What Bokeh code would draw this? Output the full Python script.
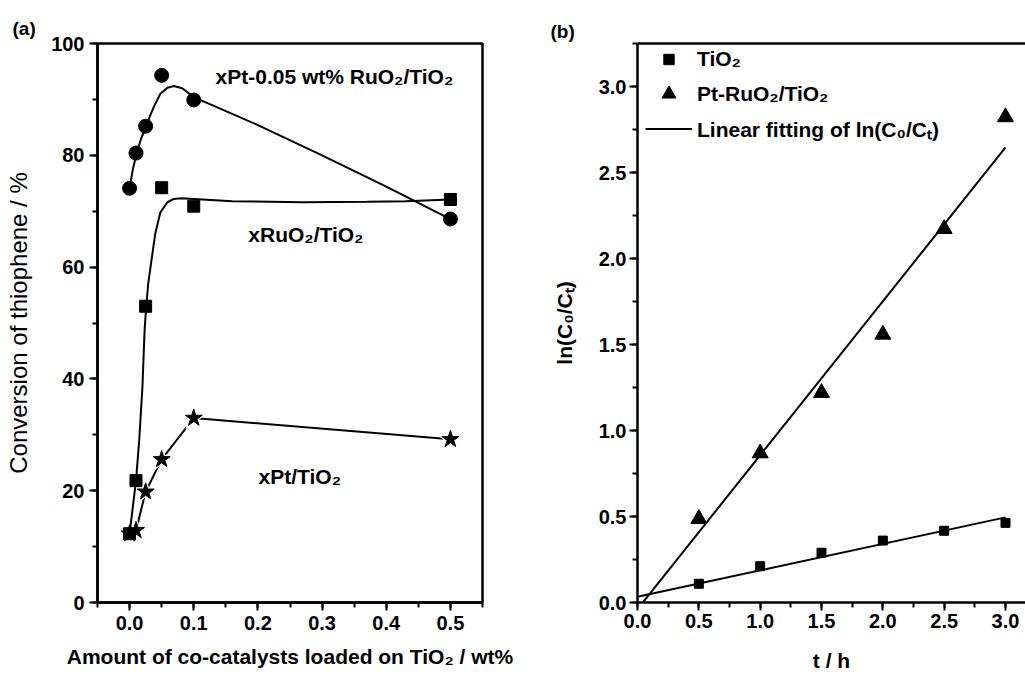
import numpy as np
from bokeh.plotting import figure
from bokeh.layouts import row
from bokeh.models import (Range1d, SingleIntervalTicker, NumeralTickFormatter, Label,
                          Legend, LegendItem, LinearAxis, FixedTicker)
from bokeh.embed import file_html
from bokeh.resources import INLINE

FONT = "Liberation Sans"

# ---------------- Panel (a) data ----------------
loading = [0.0, 0.01, 0.025, 0.05, 0.1, 0.5]                 # wt%
conv_pt_ruo2 = [74.1, 80.4, 85.2, 94.3, 89.9, 68.6]          # xPt-0.05 wt% RuO2/TiO2
conv_ruo2 = [12.3, 21.8, 53.0, 74.2, 70.9, 72.1]             # xRuO2/TiO2
conv_pt = [12.3, 12.9, 19.8, 25.6, 33.0, 29.2]               # xPt/TiO2

# smooth guide curves
curve_pt_ruo2_x = [0.0, 0.005, 0.011, 0.018, 0.026, 0.032, 0.038, 0.048, 0.059, 0.069,
                   0.082, 0.1, 0.2, 0.3, 0.4, 0.5]
curve_pt_ruo2_y = [74.1, 77.4, 80.4, 83.0, 85.2, 87.1, 88.7, 91.0, 92.1, 92.4,
                   92.0, 90.4, 85.4, 80.0, 74.4, 68.6]
curve_ruo2_x = [0.0, 0.005, 0.01, 0.015, 0.02, 0.0235, 0.026, 0.029, 0.033, 0.04, 0.048,
                0.059, 0.069, 0.08, 0.1, 0.16, 0.27, 0.37, 0.43, 0.5]
curve_ruo2_y = [12.3, 17.0, 21.8, 29.0, 38.5, 49.0, 53.0, 57.0, 60.3, 66.0, 69.8,
                71.6, 72.2, 72.3, 72.2, 71.8, 71.6, 71.7, 71.8, 72.1]

# ---------------- Panel (b) data ----------------
t_h = [0.0, 0.5, 1.0, 1.5, 2.0, 2.5, 3.0]
ln_tio2 = [0.0, 0.109, 0.211, 0.289, 0.360, 0.417, 0.463]
ln_pt_ruo2 = [0.0, 0.486, 0.868, 1.219, 1.558, 2.172, 2.822]


def style_axis(ax, tick_font="20px"):
    ax.axis_line_width = 2.5
    ax.axis_line_color = "black"
    ax.major_tick_line_width = 2
    ax.minor_tick_line_width = 2
    ax.major_tick_in = 0
    ax.major_tick_out = 8
    ax.minor_tick_in = 0
    ax.minor_tick_out = 5
    ax.major_label_text_font = FONT
    ax.major_label_text_font_style = "bold"
    ax.major_label_text_font_size = tick_font
    ax.major_label_text_color = "black"
    ax.axis_label_text_font = FONT
    ax.axis_label_text_color = "black"


def panel_title(p, text, offset, standoff):
    p.title.text = text
    p.title.align = "left"
    p.title.offset = offset
    p.title.text_font = FONT
    p.title.text_font_style = "bold"
    p.title.text_font_size = "19px"
    p.title.text_color = "black"
    p.title.standoff = standoff


# ======================= Panel (a) =======================
pa = figure(width=520, height=680, output_backend="svg", toolbar_location=None,
            x_range=Range1d(-0.05, 0.55), y_range=Range1d(0, 100),
            min_border_left=97, min_border_right=38, min_border_top=43, min_border_bottom=74)
pa.xgrid.grid_line_color = None
pa.ygrid.grid_line_color = None
pa.outline_line_color = "black"
pa.outline_line_width = 2.5
pa.outline_line_alpha = 1
panel_title(pa, "(a)", -85, 9)

ax_a = pa.below[0]
ay_a = pa.left[0]
ax_a.ticker = SingleIntervalTicker(interval=0.1, num_minor_ticks=2)
ax_a.formatter = NumeralTickFormatter(format="0.0")
ay_a.ticker = SingleIntervalTicker(interval=20, num_minor_ticks=2)
for ax in (ax_a, ay_a):
    style_axis(ax)
ax_a.major_label_standoff = 5
ay_a.major_label_standoff = 5
ax_a.axis_label = "Amount of co-catalysts loaded on TiO₂ / wt%"
ax_a.axis_label_text_font_size = "21px"
ax_a.axis_label_text_font_style = "bold"
ax_a.axis_label_standoff = 12
ay_a.axis_label = "Conversion of thiophene / %"
ay_a.axis_label_text_font_size = "24px"
ay_a.axis_label_text_font_style = "normal"
ay_a.axis_label_standoff = 16

# xPt/TiO2 : straight segments with gaps at the markers
pa.line(loading, conv_pt, line_color="black", line_width=2)
pa.scatter(loading, conv_pt, marker="star", size=26, fill_color="white", line_color="white")
pa.scatter(loading, conv_pt, marker="star", size=18, fill_color="black", line_color="black",
           line_width=1)
# xRuO2/TiO2
pa.line(curve_ruo2_x, curve_ruo2_y, line_color="black", line_width=2)
pa.scatter(loading, conv_ruo2, marker="square", size=12, fill_color="black", line_color="black")
# xPt-0.05 wt% RuO2/TiO2
pa.line(curve_pt_ruo2_x, curve_pt_ruo2_y, line_color="black", line_width=2)
pa.scatter(loading, conv_pt_ruo2, marker="circle", size=14, fill_color="black", line_color="black")

for txt, x, y in [("xPt-0.05 wt% RuO₂/TiO₂", 0.134, 94.1),
                  ("xRuO₂/TiO₂", 0.185, 65.9),
                  ("xPt/TiO₂", 0.201, 22.6)]:
    pa.add_layout(Label(x=x, y=y, text=txt, text_font=FONT, text_font_style="bold",
                        text_font_size="21px", text_color="black",
                        text_align="left", text_baseline="alphabetic"))

# ======================= Panel (b) =======================
pb = figure(width=505, height=680, output_backend="svg", toolbar_location=None,
            x_range=Range1d(0, 3.163), y_range=Range1d(0, 3.25),
            min_border_left=117, min_border_right=0, min_border_top=43, min_border_bottom=78)
pb.xgrid.grid_line_color = None
pb.ygrid.grid_line_color = None
pb.outline_line_color = None
panel_title(pb, "(b)", -87, 3)

bx = pb.below[0]
by = pb.left[0]
bx.ticker = SingleIntervalTicker(interval=0.5, num_minor_ticks=2)
by.ticker = SingleIntervalTicker(interval=0.5, num_minor_ticks=2)
for ax in (bx, by):
    style_axis(ax)
    ax.formatter = NumeralTickFormatter(format="0.0")
bx.major_label_standoff = 3
by.major_label_standoff = 3
bx.axis_label = "t / h"
bx.axis_label_text_font_size = "21px"
bx.axis_label_text_font_style = "bold"
bx.axis_label_standoff = 18
by.axis_label = "ln(C₀/Cₜ)"
by.axis_label_text_font_size = "21px"
by.axis_label_text_font_style = "bold"
by.axis_label_standoff = 20

# top border line of panel (b) (the right border is outside the picture)
top_axis = LinearAxis(ticker=FixedTicker(ticks=[]), major_tick_out=0, major_tick_in=0,
                      minor_tick_out=0, minor_tick_in=0, major_label_standoff=0,
                      major_tick_line_color=None, minor_tick_line_color=None,
                      axis_line_width=2.5, axis_line_color="black")
pb.add_layout(top_axis, "above")

# linear fits (through all points, including the origin)
k1, b1 = np.polyfit(t_h, ln_tio2, 1)
k2, b2 = np.polyfit(t_h, ln_pt_ruo2, 1)
t_fit = np.array([t_h[0], t_h[-1]])
r_fit1 = pb.line(t_fit, k1 * t_fit + b1, line_color="black", line_width=2)
r_fit2 = pb.line(t_fit, k2 * t_fit + b2, line_color="black", line_width=2)

r_sq = pb.scatter(t_h[1:], ln_tio2[1:], marker="square", size=9,
                  fill_color="black", line_color="black")
r_tri = pb.scatter(t_h[1:], ln_pt_ruo2[1:], marker="triangle", size=16,
                   fill_color="black", line_color="black")

leg_common = dict(glyph_width=47, label_standoff=5, padding=0, margin=0, spacing=0,
                  border_line_color=None, background_fill_alpha=0,
                  label_text_font=FONT, label_text_font_style="bold",
                  label_text_font_size="21px", label_text_color="black")
leg1 = Legend(items=[LegendItem(label="TiO₂", renderers=[r_sq])],
              location=(8, 530), glyph_height=26, label_height=26, **leg_common)
leg2 = Legend(items=[LegendItem(label="Pt-RuO₂/TiO₂", renderers=[r_tri]),
                     LegendItem(label="Linear fitting of ln(C₀/Cₜ)", renderers=[r_fit2])],
              location=(8, 456), glyph_height=35, label_height=35, **leg_common)
pb.add_layout(leg1)
pb.add_layout(leg2)

layout = row(pa, pb)
open("out.html", "w").write(file_html(layout, INLINE))
